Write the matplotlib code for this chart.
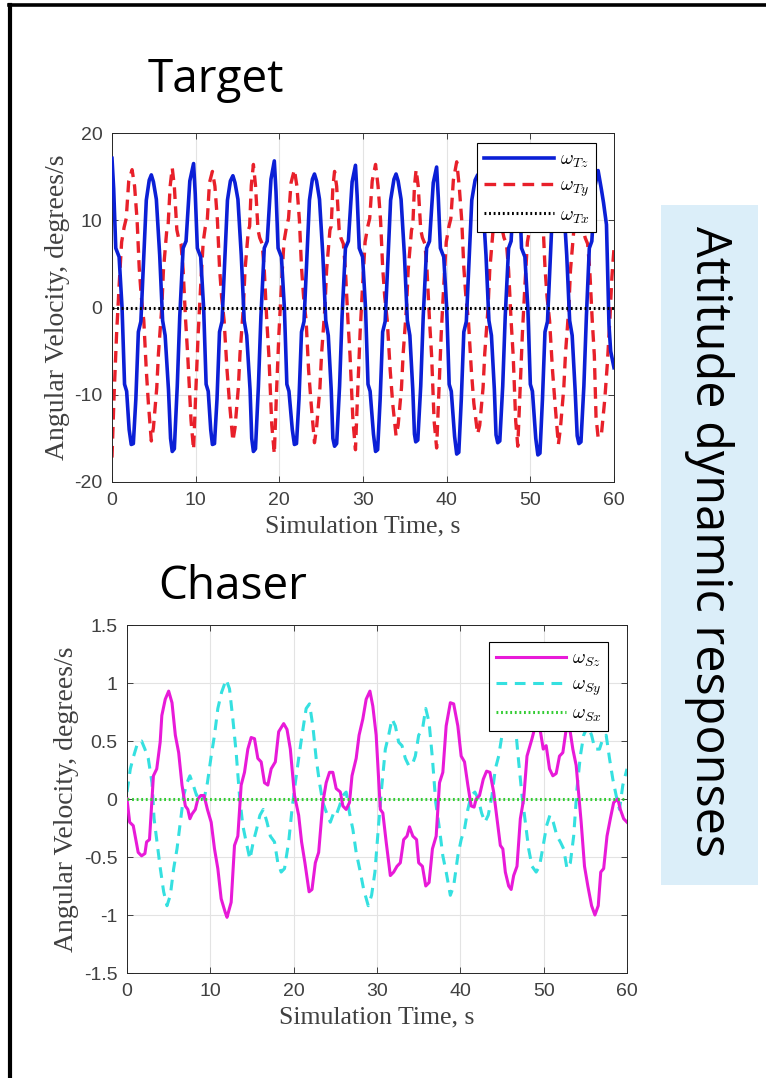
import numpy as np
import matplotlib
matplotlib.use("Agg")
import matplotlib.pyplot as plt
from matplotlib.lines import Line2D
from matplotlib.patches import Rectangle

plt.rcParams['mathtext.fontset'] = 'cm'
plt.rcParams['axes.unicode_minus'] = False

# ---- Target: angular velocity (deg/s) ----
wz_target = [
    (0.0, 17.1), (0.2, 13.6), (0.45, 6.8), (0.85, 5.8), (1.2, 0.0), (1.5, -8.8), (1.75, -9.6), (2.05, -14.0), (2.3, -15.7),
    (2.55, -15.6), (2.85, -10.5), (3.15, -2.8), (3.45, -1.6), (3.8, 6.0), (4.1, 12.3), (4.45, 14.6), (4.7, 15.2),
    (4.95, 14.4), (5.3, 12.4), (5.7, 6.0), (6.05, -1.5), (6.35, -3.2), (6.75, -9.4), (7.0, -15.0), (7.2, -16.5),
    (7.45, -16.2), (7.8, -9.0), (8.1, -1.0), (8.5, 6.8), (8.85, 7.6), (9.3, 14.5), (9.75, 16.5),
    (9.95, 13.0), (10.2, 6.8), (10.6, 5.8), (10.95, 0.0), (11.25, -8.8), (11.5, -9.6), (11.8, -14.0), (12.0, -15.7),
    (12.25, -15.6), (12.55, -10.5), (12.85, -2.8), (13.15, -1.6), (13.5, 6.0), (13.8, 12.3), (14.15, 14.5), (14.45, 15.1),
    (14.7, 14.3), (15.05, 12.4), (15.45, 6.0), (15.8, -1.5), (16.1, -3.2), (16.5, -9.4), (16.7, -15.0), (16.9, -16.5),
    (17.15, -16.2), (17.5, -9.0), (17.8, -1.0), (18.2, 6.8), (18.55, 7.6), (19.0, 14.7), (19.4, 16.8),
    (19.6, 13.3), (19.85, 6.8), (20.25, 5.8), (20.6, 0.0), (20.9, -8.8), (21.15, -9.6), (21.55, -14.0), (21.8, -15.7),
    (22.05, -15.6), (22.35, -10.5), (22.65, -2.8), (22.95, -1.6), (23.3, 6.0), (23.6, 12.3), (23.95, 14.7), (24.2, 15.3),
    (24.45, 14.5), (24.8, 12.4), (25.2, 6.0), (25.55, -1.5), (25.85, -3.2), (26.2, -9.4), (26.4, -15.0), (26.6, -15.9),
    (26.85, -15.6), (27.2, -9.0), (27.5, -1.0), (27.9, 6.8), (28.25, 7.6), (28.7, 14.4), (29.1, 16.3),
    (29.3, 12.8), (29.55, 6.8), (29.95, 5.8), (30.3, 0.0), (30.6, -8.8), (30.85, -9.6), (31.25, -14.5), (31.5, -16.5),
    (31.75, -16.3), (32.05, -10.5), (32.35, -2.8), (32.65, -1.6), (33.0, 6.0), (33.3, 12.3), (33.7, 14.7), (33.95, 15.3),
    (34.2, 14.5), (34.55, 12.4), (34.95, 6.0), (35.3, -1.5), (35.6, -3.2), (35.95, -9.4), (36.15, -14.5), (36.3, -15.4),
    (36.55, -15.2), (36.9, -9.0), (37.2, -1.0), (37.6, 6.8), (37.95, 7.6), (38.4, 14.3), (38.8, 16.1),
    (39.0, 12.6), (39.25, 6.8), (39.65, 5.8), (40.0, 0.0), (40.3, -8.8), (40.55, -9.6), (40.95, -14.8), (41.2, -16.8),
    (41.45, -16.6), (41.75, -10.5), (42.05, -2.8), (42.35, -1.6), (42.7, 6.0), (43.0, 12.3), (43.4, 14.6), (43.7, 15.2),
    (43.95, 14.4), (44.3, 12.4), (44.7, 6.0), (45.05, -1.5), (45.35, -3.2), (45.7, -9.4), (45.9, -14.6), (46.1, -15.5),
    (46.35, -15.3), (46.7, -9.0), (47.0, -1.0), (47.4, 6.8), (47.7, 7.6), (48.1, 14.5), (48.5, 16.3),
    (48.7, 12.8), (48.95, 6.8), (49.35, 5.8), (49.7, 0.0), (50.0, -8.8), (50.25, -9.6), (50.65, -15.0), (50.9, -16.9),
    (51.15, -16.7), (51.45, -10.5), (51.75, -2.8), (52.05, -1.6), (52.4, 6.0), (52.7, 12.3), (53.1, 14.7), (53.35, 15.3),
    (53.6, 14.5), (53.95, 12.4), (54.35, 6.0), (54.7, -1.5), (55.0, -3.2), (55.35, -9.4), (55.6, -14.7), (55.8, -15.6),
    (56.05, -15.4), (56.4, -9.0), (56.7, -1.0), (57.05, 6.8), (57.35, 7.6), (57.75, 14.0), (58.1, 15.7),
    (58.5, 13.5), (58.75, 12.0), (59.1, 9.5), (59.4, -2.0), (59.6, -5.0), (60.0, -6.9),
]

wy_target = [
    (0.0, -17.2), (0.25, -10.0), (0.55, -3.0), (0.85, 2.5), (1.15, 7.5), (1.45, 9.2), (1.7, 10.2), (2.0, 14.5), (2.4, 15.8),
    (2.7, 13.9), (3.0, 10.0), (3.25, 4.6), (3.5, 1.2), (3.8, -1.5), (4.1, -7.2), (4.35, -11.0), (4.7, -15.3),
    (4.95, -13.8), (5.35, -9.2), (5.55, -5.3), (5.95, 0.0), (6.15, 4.3), (6.55, 8.9), (6.7, 9.3), (6.95, 13.9), (7.2, 16.0),
    (7.45, 13.9), (7.75, 8.9), (7.95, 8.0), (8.25, 7.3), (8.5, 4.3), (8.8, -1.5), (9.05, -5.5), (9.45, -13.0), (9.75, -16.3),
    (10.0, -10.0), (10.3, -3.0), (10.6, 2.5), (10.9, 7.5), (11.15, 9.2), (11.4, 10.2), (11.65, 14.3), (12.0, 15.6),
    (12.3, 13.9), (12.6, 10.0), (12.85, 4.6), (13.1, 1.2), (13.4, -1.5), (13.75, -7.2), (14.05, -11.0), (14.45, -15.3),
    (14.7, -13.8), (15.1, -9.2), (15.3, -5.3), (15.7, 0.0), (15.9, 4.3), (16.3, 8.9), (16.45, 9.3), (16.65, 14.0), (16.9, 16.4),
    (17.15, 14.0), (17.45, 8.9), (17.65, 8.0), (17.95, 7.3), (18.2, 4.3), (18.5, -1.5), (18.75, -5.5), (19.1, -13.5), (19.4, -16.8),
    (19.65, -10.0), (19.95, -3.0), (20.25, 2.5), (20.55, 7.5), (20.85, 9.2), (21.1, 10.2), (21.4, 14.3), (21.8, 15.8),
    (22.1, 13.9), (22.4, 10.0), (22.65, 4.6), (22.9, 1.2), (23.2, -1.5), (23.5, -7.2), (23.8, -11.0), (24.2, -15.5),
    (24.45, -13.8), (24.85, -9.2), (25.05, -5.3), (25.45, 0.0), (25.65, 4.3), (26.05, 8.9), (26.2, 9.3), (26.4, 13.8), (26.6, 15.6),
    (26.85, 13.9), (27.15, 8.9), (27.35, 8.0), (27.65, 7.3), (27.9, 4.3), (28.2, -1.5), (28.45, -5.5), (28.8, -13.0), (29.1, -16.3),
    (29.35, -10.0), (29.65, -3.0), (29.95, 2.5), (30.25, 7.5), (30.55, 9.2), (30.8, 10.2), (31.1, 14.5), (31.5, 16.4),
    (31.8, 13.9), (32.1, 10.0), (32.35, 4.6), (32.6, 1.2), (32.9, -1.5), (33.25, -7.2), (33.55, -11.0), (33.95, -14.7),
    (34.2, -13.5), (34.6, -9.2), (34.8, -5.3), (35.2, 0.0), (35.4, 4.3), (35.8, 8.9), (35.95, 9.3), (36.15, 13.9), (36.35, 15.8),
    (36.6, 13.9), (36.9, 8.9), (37.1, 8.0), (37.4, 7.3), (37.65, 4.3), (37.95, -1.5), (38.2, -5.5), (38.5, -13.0), (38.8, -16.1),
    (39.05, -10.0), (39.35, -3.0), (39.65, 2.5), (39.95, 7.5), (40.25, 9.2), (40.5, 10.2), (40.8, 14.6), (41.2, 16.7),
    (41.5, 13.9), (41.8, 10.0), (42.05, 4.6), (42.3, 1.2), (42.6, -1.5), (42.95, -7.2), (43.25, -11.0), (43.7, -14.5),
    (43.95, -13.5), (44.35, -9.2), (44.55, -5.3), (44.95, 0.0), (45.15, 4.3), (45.55, 8.9), (45.7, 9.3), (45.9, 13.9), (46.1, 15.8),
    (46.35, 13.9), (46.65, 8.9), (46.85, 8.0), (47.15, 7.3), (47.4, 4.3), (47.7, -1.5), (47.95, -5.5), (48.25, -13.0), (48.5, -15.9),
    (48.75, -10.0), (49.05, -3.0), (49.35, 2.5), (49.65, 7.5), (49.95, 9.2), (50.2, 10.2), (50.5, 14.5), (50.9, 16.2),
    (51.2, 13.9), (51.5, 10.0), (51.75, 4.6), (52.0, 1.2), (52.3, -1.5), (52.65, -7.2), (52.95, -11.0), (53.35, -15.7),
    (53.6, -13.8), (54.0, -9.2), (54.2, -5.3), (54.6, 0.0), (54.8, 4.3), (55.2, 8.9), (55.35, 9.3), (55.55, 13.9), (55.8, 15.8),
    (56.05, 13.9), (56.35, 8.9), (56.55, 8.0), (56.85, 7.3), (57.1, 4.3), (57.4, -1.5), (57.65, -5.5), (57.85, -12.5), (58.1, -14.9),
    (58.5, -14.5), (58.9, -10.5), (59.2, -6.5), (59.5, -1.5), (59.75, 3.5), (60.0, 6.8),
]

wx_target = [(0.0, 0.0), (60.0, 0.0)]

# ---- Chaser ----
wz_chaser = [
    (0.0, 0.0), (0.32, -0.2), (0.75, -0.23), (1.34, -0.46), (1.75, -0.49), (2.15, -0.47), (2.35, -0.37), (2.7, -0.35),
    (3.0, 0.0), (3.17, 0.2), (3.57, 0.26), (3.98, 0.49), (4.18, 0.72), (4.59, 0.86), (5.0, 0.93), (5.4, 0.83),
    (5.8, 0.55), (6.2, 0.40), (6.6, 0.12), (7.0, -0.06), (7.3, -0.09), (7.55, -0.17), (7.8, -0.13), (8.2, -0.09),
    (8.5, 0.0), (8.85, 0.03), (9.25, 0.03), (9.65, -0.09), (10.1, -0.2), (10.5, -0.43), (10.9, -0.6), (11.3, -0.86),
    (11.8, -0.98), (12.0, -1.02), (12.5, -0.89), (12.9, -0.4), (13.3, -0.32), (13.7, 0.12), (14.1, 0.23), (14.5, 0.43),
    (14.9, 0.53), (15.3, 0.52), (15.7, 0.35), (16.1, 0.32), (16.5, 0.14), (16.9, 0.12), (17.3, 0.26), (17.8, 0.32),
    (18.2, 0.58), (18.8, 0.65), (19.2, 0.6), (19.6, 0.43), (20.1, 0.03), (20.6, -0.14), (20.95, -0.37), (21.35, -0.55),
    (21.85, -0.8), (22.2, -0.78), (22.6, -0.55), (23.0, -0.46), (23.5, -0.03), (23.9, 0.14), (24.3, 0.23), (24.7, 0.23),
    (25.1, 0.09), (25.6, 0.06), (25.9, -0.06), (26.3, -0.09), (26.7, -0.03), (27.0, 0.2), (27.5, 0.35), (27.85, 0.55),
    (28.3, 0.69), (28.7, 0.86), (29.15, 0.93), (29.5, 0.8), (29.9, 0.55), (30.4, -0.09), (30.7, -0.12), (31.1, -0.37),
    (31.6, -0.66), (32.0, -0.63), (32.4, -0.58), (32.8, -0.55), (33.2, -0.35), (33.6, -0.32), (33.9, -0.24), (34.3, -0.32),
    (34.75, -0.35), (35.0, -0.55), (35.45, -0.58), (35.85, -0.75), (36.25, -0.72), (36.65, -0.43), (37.1, -0.32), (37.5, 0.14),
    (37.9, 0.23), (38.3, 0.63), (38.8, 0.83), (39.2, 0.82), (39.7, 0.63), (40.1, 0.37), (40.5, 0.32), (40.9, 0.12),
    (41.3, -0.06), (41.65, -0.07), (41.9, 0.0), (42.3, 0.03), (42.75, 0.17), (43.15, 0.24), (43.55, 0.23), (44.0, 0.06),
    (44.4, -0.17), (44.8, -0.4), (45.1, -0.43), (45.4, -0.63), (45.8, -0.75), (46.1, -0.78), (46.4, -0.66), (46.8, -0.58),
    (47.2, -0.17), (47.6, 0.0), (48.0, 0.37), (48.6, 0.52), (49.1, 0.66), (49.5, 0.63), (49.95, 0.43), (50.3, 0.46),
    (50.7, 0.26), (51.1, 0.2), (51.5, 0.22), (51.9, 0.37), (52.3, 0.4), (52.7, 0.6), (53.1, 0.62), (53.5, 0.43),
    (53.9, 0.29), (54.25, 0.0), (54.5, -0.2), (54.9, -0.58), (55.3, -0.75), (55.75, -0.92), (56.15, -1.0), (56.55, -0.92),
    (56.85, -0.63), (57.2, -0.6), (57.6, -0.32), (58.0, -0.17), (58.4, -0.03), (58.9, 0.0), (59.2, -0.09), (59.6, -0.17),
    (60.0, -0.2),
]

wy_chaser = [
    (0.0, 0.06), (0.4, 0.26), (0.8, 0.37), (1.3, 0.49), (1.75, 0.5), (2.15, 0.43), (2.55, 0.35), (3.0, 0.14),
    (3.25, -0.17), (3.6, -0.37), (4.0, -0.6), (4.4, -0.8), (4.8, -0.92), (5.2, -0.83), (5.6, -0.6), (6.0, -0.43),
    (6.4, -0.2), (6.8, 0.03), (7.2, 0.14), (7.55, 0.2), (7.95, 0.12), (8.35, 0.03), (8.75, 0.06), (9.25, 0.0),
    (9.65, 0.14), (10.1, 0.37), (10.5, 0.55), (10.9, 0.78), (11.35, 0.92), (11.9, 1.03), (12.3, 0.95), (12.7, 0.69),
    (13.1, 0.40), (13.5, 0.03), (13.9, -0.23), (14.3, -0.37), (14.75, -0.52), (15.15, -0.37), (15.55, -0.26), (15.95, -0.14),
    (16.35, -0.09), (16.8, -0.2), (17.2, -0.32), (17.7, -0.37), (18.1, -0.55), (18.5, -0.63), (18.9, -0.6), (19.4, -0.37),
    (19.8, -0.09), (20.2, 0.14), (20.6, 0.35), (21.0, 0.55), (21.5, 0.78), (21.9, 0.82), (22.3, 0.63), (22.7, 0.35),
    (23.1, 0.14), (23.5, -0.03), (23.95, -0.12), (24.4, -0.2), (24.8, -0.12), (25.1, -0.14), (25.5, -0.06), (25.9, 0.03),
    (26.3, 0.06), (26.7, -0.12), (27.1, -0.26), (27.5, -0.46), (28.0, -0.63), (28.4, -0.78), (28.95, -0.92), (29.35, -0.83),
    (29.75, -0.63), (30.15, -0.26), (30.55, 0.09), (31.0, 0.43), (31.4, 0.55), (31.8, 0.69), (32.2, 0.63), (32.6, 0.49),
    (33.0, 0.46), (33.4, 0.35), (33.8, 0.29), (34.2, 0.29), (34.6, 0.37), (35.0, 0.55), (35.45, 0.6), (35.85, 0.78),
    (36.25, 0.66), (36.65, 0.35), (37.05, -0.03), (37.5, -0.26), (37.9, -0.49), (38.3, -0.63), (38.8, -0.83), (39.2, -0.75),
    (39.7, -0.49), (40.1, -0.35), (40.5, -0.26), (40.9, -0.09), (41.3, 0.03), (41.75, 0.06), (42.15, 0.0), (42.55, -0.12),
    (42.95, -0.2), (43.35, -0.14), (43.8, 0.03), (44.2, 0.26), (44.6, 0.37), (45.0, 0.55), (45.4, 0.66), (45.8, 0.69),
    (46.2, 0.78), (46.6, 0.63), (47.0, 0.32), (47.4, 0.03), (47.8, -0.2), (48.2, -0.43), (48.6, -0.58), (49.1, -0.63),
    (49.5, -0.58), (49.95, -0.4), (50.35, -0.23), (50.75, -0.14), (51.15, -0.2), (51.6, -0.32), (52.0, -0.37), (52.4, -0.43),
    (52.8, -0.6), (53.2, -0.55), (53.6, -0.32), (54.0, 0.09), (54.4, 0.37), (54.8, 0.55), (55.3, 0.63), (55.75, 0.55),
    (56.15, 0.43), (56.7, 0.43), (57.1, 0.52), (57.5, 0.55), (57.9, 0.35), (58.3, 0.17), (58.7, 0.03), (59.1, -0.09),
    (59.5, 0.12), (60.0, 0.26),
]

wx_chaser = [(0.0, 0.0), (60.0, 0.0)]

x_ticks = [0, 10, 20, 30, 40, 50, 60]
y_ticks_target = [-20, -10, 0, 10, 20]
y_ticks_chaser = [-1.5, -1, -0.5, 0, 0.5, 1, 1.5]
y_tick_labels_chaser = ['-1.5', '-1', '-0.5', '0', '0.5', '1', '1.5']

W, H = 766, 1078
fig = plt.figure(figsize=(W / 100, H / 100), dpi=100)
fig.patch.set_facecolor('white')

def fx(px):
    return px / W

def fy(py):
    return 1 - py / H

ax_color = '#262626'


def style_axes(ax, yticks, ylabels=None):
    ax.set_xlim(0, 60)
    ax.set_xticks(x_ticks)
    ax.set_yticks(yticks)
    if ylabels is not None:
        ax.set_yticklabels(ylabels)
    ax.grid(True, color='#e3e3e3', linewidth=0.8)
    ax.set_axisbelow(True)
    ax.tick_params(direction='in', length=4, width=0.6, colors=ax_color,
                   top=True, right=True, labelsize=14, pad=7)
    ax.tick_params(axis='x', labelcolor='#404040')
    ax.tick_params(axis='y', labelcolor='#404040')
    for lab in ax.get_xticklabels() + ax.get_yticklabels():
        lab.set_fontfamily('Liberation Sans')
    for s in ax.spines.values():
        s.set_color(ax_color)
        s.set_linewidth(0.7)
    ax.set_xlabel('Simulation Time, s', family='Liberation Serif', fontsize=18.5,
                  color='#404040', labelpad=5)
    ax.set_ylabel('Angular Velocity, degrees/s', family='Liberation Serif', fontsize=20,
                  color='#404040', labelpad=3)


def split(pairs):
    arr = np.array(pairs)
    return arr[:, 0], arr[:, 1]


# top panel
ax1 = fig.add_axes([fx(112), fy(482), fx(614) - fx(112), fy(133) - fy(482)])
t, v = split(wz_target)
ax1.plot(t, v, color='#0b1fd6', lw=2.6, label=r'$\omega_{Tz}$', zorder=3)
t, v = split(wy_target)
ax1.plot(t, v, color='#e8202a', lw=2.4, ls=(0, (3.5, 2.2)), label=r'$\omega_{Ty}$', zorder=2)
t, v = split(wx_target)
ax1.plot(t, v, color='black', lw=2.2, ls=(0, (0.6, 0.9)), label=r'$\omega_{Tx}$', zorder=4)
ax1.set_ylim(-20, 20)
style_axes(ax1, y_ticks_target)
leg1 = ax1.legend(loc='upper right', bbox_to_anchor=(0.964, 0.971), borderaxespad=0,
                  fancybox=False, framealpha=1, edgecolor='black', fontsize=14,
                  handlelength=3.6, handletextpad=0.3, labelspacing=0.3, borderpad=0.35)
leg1.get_frame().set_linewidth(0.8)
leg1.set_zorder(10)

# bottom panel
ax2 = fig.add_axes([fx(127), fy(973), fx(627) - fx(127), fy(625) - fy(973)])
t, v = split(wz_chaser)
ax2.plot(t, v, color='#e81ad8', lw=2.2, label=r'$\omega_{Sz}$', zorder=3)
t, v = split(wy_chaser)
ax2.plot(t, v, color='#35e0e0', lw=2.2, ls=(0, (3.5, 2.5)), label=r'$\omega_{Sy}$', zorder=2)
t, v = split(wx_chaser)
ax2.plot(t, v, color='#33cc33', lw=2.2, ls=(0, (0.6, 0.9)), label=r'$\omega_{Sx}$', zorder=4)
ax2.set_ylim(-1.5, 1.5)
style_axes(ax2, y_ticks_chaser, y_tick_labels_chaser)
leg2 = ax2.legend(loc='upper right', bbox_to_anchor=(0.962, 0.951), borderaxespad=0,
                  fancybox=False, framealpha=1, edgecolor='black', fontsize=14,
                  handlelength=3.6, handletextpad=0.3, labelspacing=0.3, borderpad=0.35)
leg2.get_frame().set_linewidth(0.8)
leg2.set_zorder(10)

# panel titles
fig.text(fx(148), fy(92), 'Target', family='Open Sans', fontsize=33, va='baseline', ha='left')
fig.text(fx(158), fy(599), 'Chaser', family='Open Sans', fontsize=33, va='baseline', ha='left')

# side box
fig.add_artist(Rectangle((fx(661), fy(885)), fx(758) - fx(661), fy(205) - fy(885),
                         transform=fig.transFigure, facecolor='#dbeef9', edgecolor='none'))
fig.text(fx(709), fy(541), 'Attitude dynamic responses', family='Open Sans', fontsize=35,
         rotation=-90, ha='center', va='center')

# outer frame (left and top edges)
fig.add_artist(Line2D([fx(10), fx(10)], [0, fy(5)], transform=fig.transFigure,
                      color='black', lw=3))
fig.add_artist(Line2D([fx(8.5), 1], [fy(5), fy(5)], transform=fig.transFigure,
                      color='black', lw=2.6))

fig.savefig('out.png', dpi=100)
